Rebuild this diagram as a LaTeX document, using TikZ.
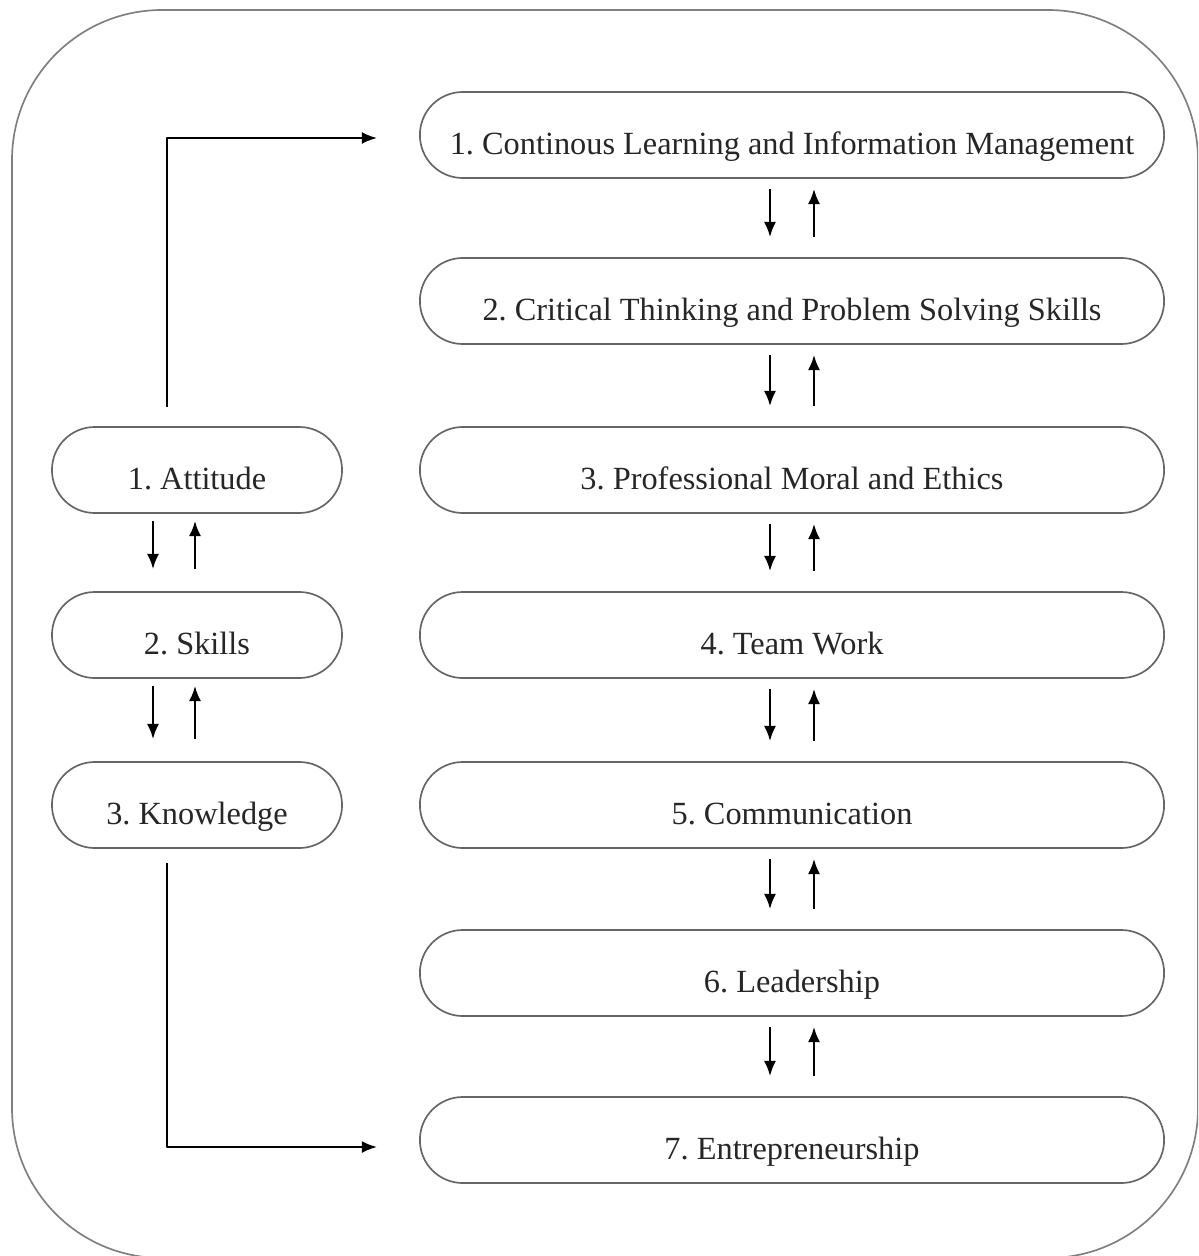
\documentclass[tikz,border=0pt]{standalone}
\usepackage{fontspec}
\setmainfont{Liberation Serif}
\usetikzlibrary{calc,arrows.meta}
\tikzset{
  khoi/.style={draw=black!60, line width=1.2pt, rounded corners=1.07cm, minimum height=2.15cm,
    inner sep=0pt, text=black!85, text height=34pt, text depth=6pt},
  muiten/.style={line width=1.6pt, black}
}
\frenchspacing
\begin{document}
\begin{tikzpicture}[x=0.025cm, y=-0.025cm, >={Latex[length=0.38cm,width=0.3cm]}, font=\fontsize{23}{27}\selectfont, line join=round]
				\useasboundingbox (0,0) rectangle (1198,1256);
				\clip (0,0) rectangle (1198,1256);
				% 1. Khung ngoai
				\draw[black!50, line width=1.2pt, rounded corners=3.75cm] (12,10) rectangle (1198,1258);
				
				% 2. Cot ben phai
				\node[khoi, minimum width=18.6cm] (n1) at (792,135) {1. Continous Learning and Information Management};
				\node[khoi, minimum width=18.6cm] (n2) at (792,301) {2. Critical Thinking and Problem Solving Skills};
				\node[khoi, minimum width=18.6cm] (n3) at (792,470) {3. Professional Moral and Ethics};
				\node[khoi, minimum width=18.6cm] (n4) at (792,635) {4. Team Work};
				\node[khoi, minimum width=18.6cm] (n5) at (792,805) {5. Communication};
				\node[khoi, minimum width=18.6cm] (n6) at (792,973) {6. Leadership};
				\node[khoi, minimum width=18.6cm] (n7) at (792,1140) {7. Entrepreneurship};
				
				% 3. Cot ben trai
				\node[khoi, minimum width=7.25cm] (t1) at (197,470) {1. Attitude};
				\node[khoi, minimum width=7.25cm] (t2) at (197,635) {2. Skills};
				\node[khoi, minimum width=7.25cm] (t3) at (197,805) {3. Knowledge};
				
				% 4. Mui ten hai chieu giua cac khoi
				\foreach \a/\b in {n1/n2, n2/n3, n3/n4, n4/n5, n5/n6, n6/n7} {
					\draw[->, muiten] ($(\a.south)+(-22,10)$) -- ($(\b.north)+(-22,-20)$);
					\draw[->, muiten] ($(\b.north)+(22,-20)$) -- ($(\a.south)+(22,10)$);
				}
				\foreach \a/\b in {t1/t2, t2/t3} {
					\draw[->, muiten] ($(\a.south)+(-44,7)$) -- ($(\b.north)+(-44,-22)$);
					\draw[->, muiten] ($(\b.north)+(-2,-22)$) -- ($(\a.south)+(-2,7)$);
				}
				
				% 5. Duong noi hai cot
				\draw[->, muiten] ($(t1.north)+(-30,-19)$) |- ($(n1.west)+(-42,3)$);
				\draw[->, muiten] ($(t3.south)+(-30,14)$) |- ($(n7.west)+(-42,7)$);
				
			\end{tikzpicture}
\end{document}
